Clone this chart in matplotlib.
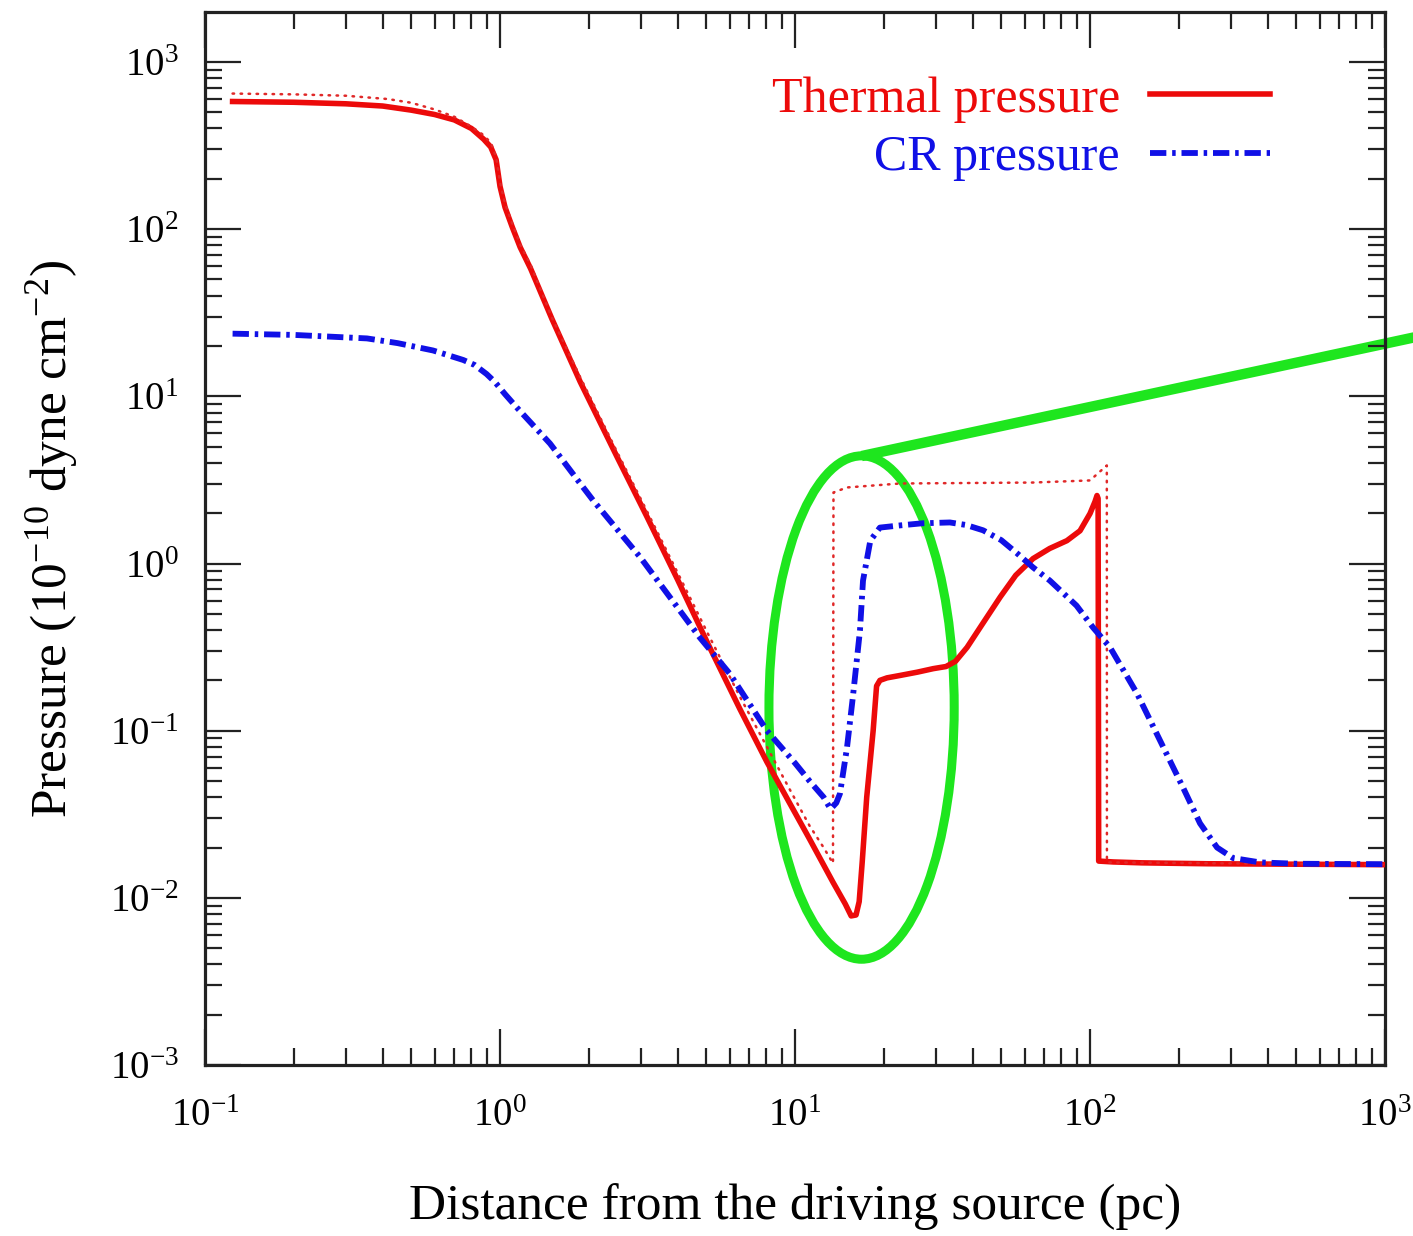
import numpy as np
import matplotlib
matplotlib.use("Agg")
import matplotlib.pyplot as plt
from matplotlib.patches import Ellipse
from matplotlib.lines import Line2D
from matplotlib.ticker import LogLocator, FuncFormatter, NullFormatter

plt.rcParams['font.family'] = ['Liberation Serif', 'DejaVu Serif']
plt.rcParams['mathtext.fontset'] = 'stix'

# Thermal pressure (solid) vs distance in pc, pressure in 1e-10 dyne cm^-2
thermal_x = [0.124, 0.2, 0.3, 0.4, 0.5, 0.6, 0.7, 0.8, 0.88, 0.93, 0.97, 1.0,
             1.04, 1.1, 1.17, 1.27, 1.5, 1.87, 2.5, 3.15, 4.0, 5.03, 6.5, 8.03,
             9.5, 11.2, 13.45, 14.8, 15.5, 16.1, 16.5, 16.9, 17.5, 18.4, 18.9,
             19.4, 20.5, 22.7, 26.0, 29.4, 32.5, 35.0, 38.3, 43.0, 49.6, 56.0,
             64.1, 73.0, 83.5, 92.5, 100.0, 104.0, 105.6, 106.5, 107.0, 120.0,
             150.0, 250.0, 500.0, 1000.0]
thermal_p = [580, 574, 562, 545, 515, 485, 450, 400, 345, 310, 260, 180,
             135, 103, 78, 58, 29, 12.2, 4.3, 1.9, 0.80, 0.34, 0.135, 0.065,
             0.038, 0.0225, 0.0124, 0.0092, 0.0078, 0.0079, 0.0095, 0.0165,
             0.040, 0.10, 0.185, 0.200, 0.207, 0.214, 0.224, 0.235, 0.242,
             0.26, 0.315, 0.43, 0.63, 0.85, 1.07, 1.23, 1.37, 1.57, 1.99, 2.35,
             2.55, 2.45, 0.0166, 0.0164, 0.0162, 0.0160, 0.0159, 0.0158]

# Thermal pressure reference profile (thin dotted)
dotted_x = [0.124, 0.2, 0.3, 0.417, 0.5, 0.6, 0.7, 0.8, 0.87, 0.93, 0.97, 1.0,
            1.04, 1.1, 1.17, 1.27, 1.5, 1.87, 2.5, 3.15, 4.0, 5.03, 6.5, 8.03,
            9.5, 11.2, 12.5, 13.45, 13.5, 15.0, 22.7, 64.0, 100.0, 114.0,
            114.1, 120.0, 1000.0]
dotted_p = [647, 640, 628, 600, 570, 520, 470, 410, 370, 330, 270, 190,
            142, 108, 81, 61, 29.5, 13, 4.6, 2.05, 0.88, 0.39, 0.16, 0.080,
            0.046, 0.027, 0.020, 0.0161, 2.66, 2.85, 3.01, 3.05, 3.14, 3.86,
            0.0163, 0.0163, 0.0158]

# Cosmic-ray pressure (dash-dot)
cr_x = [0.124, 0.2, 0.354, 0.45, 0.593, 0.75, 0.82, 0.9, 0.96, 1.04, 1.14,
        1.477, 1.87, 2.07, 3.0, 4.76, 6.0, 8.03, 10.0, 11.2, 12.5, 13.2, 13.8,
        14.2, 15.0, 15.7, 16.6, 17.0, 18.0, 19.4, 22.7, 27.0, 33.5, 38.0, 43.4,
        50.0, 56.6, 64.0, 73.1, 90.0, 102.4, 116.9, 144.3, 172.7, 206.7,
        236.0, 269.6, 305.6, 377.0, 500.0, 1000.0]
cr_p = [23.7, 23.3, 22.2, 20.8, 18.8, 16.5, 15.4, 13.6, 12.2, 10.3, 8.57,
        5.22, 3.01, 2.38, 1.08, 0.36, 0.22, 0.10, 0.064, 0.050, 0.040, 0.034,
        0.037, 0.042, 0.079, 0.158, 0.397, 0.79, 1.37, 1.64, 1.69, 1.74, 1.76,
        1.70, 1.58, 1.38, 1.15, 0.95, 0.79, 0.56, 0.414, 0.315, 0.167, 0.0874,
        0.0457, 0.0279, 0.020, 0.0173, 0.0163, 0.0160, 0.0159]

series_labels = ["Thermal pressure", "CR pressure"]
x_decades = [-1, 0, 1, 2, 3]
y_decades = [-3, -2, -1, 0, 1, 2, 3]

RED = '#ec0a0a'
BLUE = '#1010e6'
GREEN = '#1ee61e'
AXCOL = '#222222'

fig = plt.figure(figsize=(14.13, 12.36), dpi=100)
ax = fig.add_axes([0.1451, 0.1383, 0.8351, 0.852])
ax.set_xscale('log')
ax.set_yscale('log')
ax.set_xlim(10.0 ** x_decades[0], 10.0 ** x_decades[-1])
ax.set_ylim(10.0 ** y_decades[0], 1990)

# highlight ellipse around the shell region and the pointer line
ell = Ellipse((0.5564, 0.3395), width=0.157, height=0.478, transform=ax.transAxes,
              fill=False, ec=GREEN, lw=6.5, zorder=1.5, clip_on=False)
ax.add_patch(ell)
ax.add_line(Line2D([0.5564, 1.06], [0.5783, 0.6995], transform=ax.transAxes,
                   color=GREEN, lw=7.5, zorder=1.5, clip_on=False,
                   solid_capstyle='butt'))

ax.plot(thermal_x, thermal_p, color=RED, lw=4.0, zorder=3,
        solid_joinstyle='round', label=series_labels[0])
ax.plot(cr_x, cr_p, color=BLUE, lw=4.2, zorder=3.2,
        linestyle=(0, (2.8, 1.0, 0.6, 1.0)), label=series_labels[1])
ax.plot(dotted_x, dotted_p, color='#e02828', lw=1.8, zorder=3.1,
        linestyle=(0, (0.6, 2.6)), dash_capstyle='round')

# ticks
ax.xaxis.set_major_locator(LogLocator(base=10, numticks=20))
ax.yaxis.set_major_locator(LogLocator(base=10, numticks=20))
ax.xaxis.set_minor_locator(LogLocator(base=10, subs=np.arange(2, 10), numticks=50))
ax.yaxis.set_minor_locator(LogLocator(base=10, subs=np.arange(2, 10), numticks=50))
fmt = FuncFormatter(lambda v, p: r'$\mathregular{10^{%d}}$' % int(round(np.log10(v))))
ax.xaxis.set_major_formatter(fmt)
ax.yaxis.set_major_formatter(fmt)
ax.xaxis.set_minor_formatter(NullFormatter())
ax.yaxis.set_minor_formatter(NullFormatter())
ax.tick_params(which='both', direction='in', top=True, right=True,
               color=AXCOL, width=1.6)
ax.tick_params(which='major', length=26, labelsize=28)
ax.tick_params(which='minor', length=12)
ax.tick_params(axis='x', which='major', pad=24)
ax.tick_params(axis='y', which='major', pad=19)
for s in ax.spines.values():
    s.set_linewidth(2.3)
    s.set_color(AXCOL)

ax.set_xlabel('Distance from the driving source (pc)', fontsize=37)
ax.set_ylabel(r'Pressure (10$\mathregular{^{-10}}$ dyne cm$\mathregular{^{-2}}$)', fontsize=37)
ax.xaxis.set_label_coords(0.5, -0.112)
ax.yaxis.set_label_coords(-0.106, 0.5)

leg = ax.legend(loc='upper right', bbox_to_anchor=(0.9025, 0.939),
                frameon=False, markerfirst=False, fontsize=36,
                handlelength=2.4, handletextpad=0.6, labelspacing=0.24,
                borderpad=0, borderaxespad=0, labelcolor='linecolor')

fig.savefig('out.png', dpi=100)
